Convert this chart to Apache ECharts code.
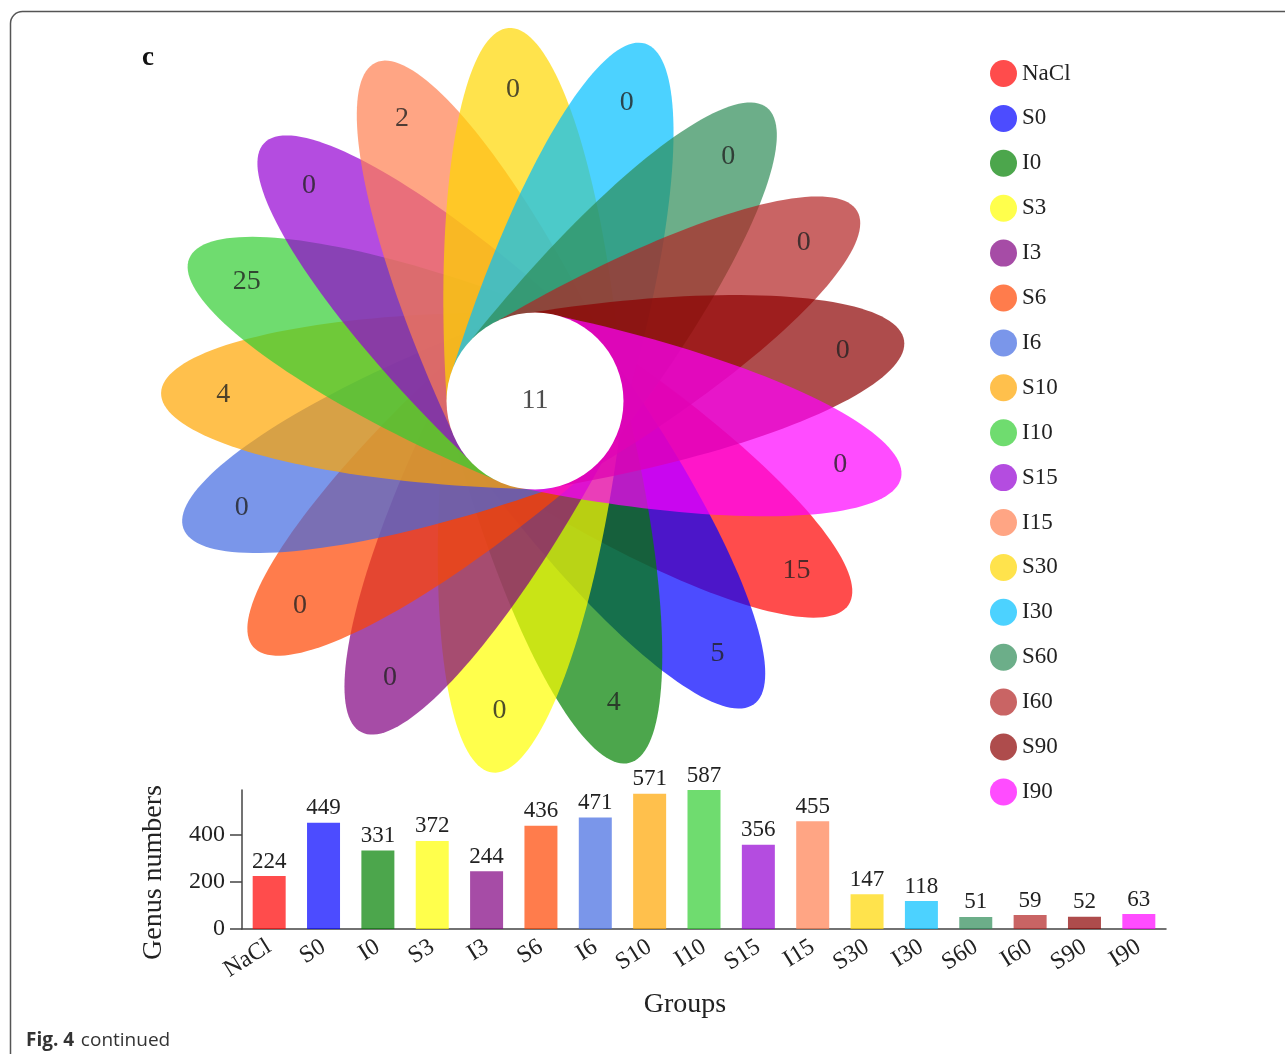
<!DOCTYPE html>
<html>
<head>
<meta charset="utf-8">
<script src="https://cdn.jsdelivr.net/npm/echarts@6/dist/echarts.min.js"></script>
<style>
  html, body { margin: 0; padding: 0; background: #ffffff; }
  #chart { width: 1285px; height: 1054px; }
</style>
</head>
<body>
<div id="chart"></div>
<script>
// Sample groups, in petal / bar order
const groups = ['NaCl', 'S0', 'I0', 'S3', 'I3', 'S6', 'I6', 'S10', 'I10', 'S15', 'I15', 'S30', 'I30', 'S60', 'I60', 'S90', 'I90'];
// Genera found only in one group (petal counts)
const uniqueGenera = [15, 5, 4, 0, 0, 0, 0, 4, 25, 0, 2, 0, 0, 0, 0, 0, 0];
// Genera shared by every group (core)
const coreGenera = 11;
// Total genus numbers per group (bar heights)
const genusNumbers = [224, 449, 331, 372, 244, 436, 471, 571, 587, 356, 455, 147, 118, 51, 59, 52, 63];
// Bar axis ticks
const genusTicks = { min: 0, max: 587, step: 200 };
// Group colours (drawn at 70% opacity)
const groupColors = ['#ff0000', '#0000ff', '#008000', '#ffff00', '#800080', '#ff4500', '#4169e1', '#ffa500',
  '#32cd32', '#9400d3', '#ff7f50', '#ffd700', '#00bfff', '#2e8b57', '#b22222', '#8b0000', '#ff00ff'];

const FILL_ALPHA = 0.7;
const SERIF = '"Liberation Serif", "Times New Roman", serif';
const TEXT = '#222222';

function rgba(hex, a) {
  const n = parseInt(hex.slice(1), 16);
  return 'rgba(' + (n >> 16 & 255) + ',' + (n >> 8 & 255) + ',' + (n & 255) + ',' + a + ')';
}
const fills = groupColors.map(c => rgba(c, FILL_ALPHA));

// Flower geometry in the hidden square coordinate system [-1, 1] x [-1, 1]
const START_DEG = -33;                 // direction of the first petal
const STEP_DEG = 360 / groups.length;  // petals run clockwise
const PETAL_A = 1.0;                   // petal length from the centre
const PETAL_B = 0.2353;                // petal half width
const CORE_R = 0.2366;                 // radius of the white core disc
const LABEL_R = 0.834;                 // distance of the petal numbers

function petalAngle(i) {
  return (START_DEG - STEP_DEG * i) * Math.PI / 180;
}

// one custom series per group, so the legend lists each group
const petalSeries = groups.map((name, i) => ({
  name: name,
  type: 'custom',
  coordinateSystem: 'cartesian2d',
  xAxisIndex: 1,
  yAxisIndex: 1,
  silent: true,
  z: 2,
  itemStyle: { color: fills[i] },
  data: [[i, uniqueGenera[i]]],
  renderItem: function (params, api) {
    const th = petalAngle(api.value(0));
    const c = Math.cos(th), s = Math.sin(th);
    const pts = [];
    for (let k = -90; k <= 90; k += 2) {
      const f = k * Math.PI / 180;
      const lx = PETAL_A * Math.cos(f);
      const ly = PETAL_B * Math.sin(f);
      pts.push(api.coord([lx * c - ly * s, lx * s + ly * c]));
    }
    return {
      type: 'polygon',
      shape: { points: pts },
      style: { fill: fills[i], stroke: null }
    };
  }
}));

// white core disc
const coreSeries = {
  name: 'core',
  type: 'custom',
  coordinateSystem: 'cartesian2d',
  xAxisIndex: 1,
  yAxisIndex: 1,
  silent: true,
  z: 3,
  data: [[0, 0]],
  renderItem: function (params, api) {
    const c = api.coord([api.value(0), api.value(1)]);
    const r = api.size([CORE_R, CORE_R])[0];
    return { type: 'circle', shape: { cx: c[0], cy: c[1], r: r }, style: { fill: '#ffffff' } };
  }
};

// petal numbers and core number
const labelData = groups.map((g, i) => {
  const th = petalAngle(i);
  return [LABEL_R * Math.cos(th), LABEL_R * Math.sin(th), uniqueGenera[i]];
});
labelData.push([0, 0, coreGenera]);

const labelSeries = {
  name: 'counts',
  type: 'scatter',
  xAxisIndex: 1,
  yAxisIndex: 1,
  silent: true,
  z: 4,
  symbolSize: 1,
  itemStyle: { color: 'rgba(0,0,0,0)' },
  data: labelData,
  label: {
    show: true,
    position: 'inside',
    formatter: p => String(p.value[2]),
    fontFamily: SERIF,
    fontSize: 28,
    color: TEXT
  }
};

const barSeries = {
  name: 'Genus numbers',
  type: 'bar',
  xAxisIndex: 0,
  yAxisIndex: 0,
  barWidth: 33,
  silent: true,
  data: genusNumbers.map((v, i) => ({ value: v, itemStyle: { color: fills[i] } })),
  label: {
    show: true,
    position: 'top',
    distance: 3,
    fontFamily: SERIF,
    fontSize: 23,
    color: TEXT
  }
};

const axisLineStyle = { color: '#444', width: 1.5 };

const option = {
  backgroundColor: '#ffffff',
  animation: false,
  grid: [
    { left: 242, top: 790, width: 924, height: 139, containLabel: false },
    { left: 161, top: 27, width: 748, height: 748, containLabel: false }
  ],
  xAxis: [
    {
      type: 'category',
      gridIndex: 0,
      data: groups,
      axisLine: { lineStyle: axisLineStyle },
      axisTick: { alignWithLabel: true, length: 11, lineStyle: axisLineStyle },
      axisLabel: { rotate: 32, margin: 16, fontFamily: SERIF, fontSize: 24, color: TEXT, interval: 0 },
      name: 'Groups',
      nameLocation: 'middle',
      nameGap: 62,
      nameTextStyle: { fontFamily: SERIF, fontSize: 28, color: TEXT, padding: [0, 38, 0, 0] }
    },
    { type: 'value', gridIndex: 1, min: -1, max: 1, show: false }
  ],
  yAxis: [
    {
      type: 'value',
      gridIndex: 0,
      min: genusTicks.min,
      max: genusTicks.max,
      interval: genusTicks.step,
      axisLine: { show: true, lineStyle: axisLineStyle },
      axisTick: { show: true, length: 12, lineStyle: axisLineStyle },
      splitLine: { show: false },
      axisLabel: { margin: 17, fontFamily: SERIF, fontSize: 24, color: TEXT, showMaxLabel: false },
      name: 'Genus numbers',
      nameLocation: 'middle',
      nameGap: 74,
      nameRotate: 90,
      nameTextStyle: { fontFamily: SERIF, fontSize: 28, color: TEXT, padding: [0, 26, 0, 0] }
    },
    { type: 'value', gridIndex: 1, min: -1, max: 1, show: false }
  ],
  legend: {
    data: groups.map((g, i) => ({ name: g, itemStyle: { color: fills[i] } })),
    orient: 'vertical',
    left: 985,
    top: 55,
    icon: 'circle',
    itemWidth: 27,
    itemHeight: 27,
    itemGap: 17.9,
    selectedMode: false,
    textStyle: { fontFamily: SERIF, fontSize: 23, color: '#222' }
  },
  graphic: [
    {
      type: 'rect',
      silent: true,
      shape: { x: 10.5, y: 11.5, width: 1400, height: 1200, r: 12 },
      style: { fill: 'none', stroke: '#555', lineWidth: 1.5 }
    },
    {
      type: 'text',
      silent: true,
      left: 142,
      top: 45,
      style: { text: 'c', font: 'bold 27px ' + SERIF, fill: '#111' }
    },
    {
      type: 'text',
      silent: true,
      left: 26,
      top: 1031,
      style: {
        text: '{b|Fig. 4}  {r|continued}',
        rich: {
          b: { fontFamily: '"Open Sans", "Noto Sans", sans-serif', fontWeight: 'bold', fontSize: 19, fill: '#333' },
          r: { fontFamily: '"Open Sans", "Noto Sans", sans-serif', fontSize: 19, fill: '#333' }
        }
      }
    }
  ],
  series: [].concat(petalSeries, [coreSeries, labelSeries, barSeries])
};

const chart = echarts.init(document.getElementById('chart'), null, { renderer: 'canvas' });
chart.setOption(option);
</script>
</body>
</html>
